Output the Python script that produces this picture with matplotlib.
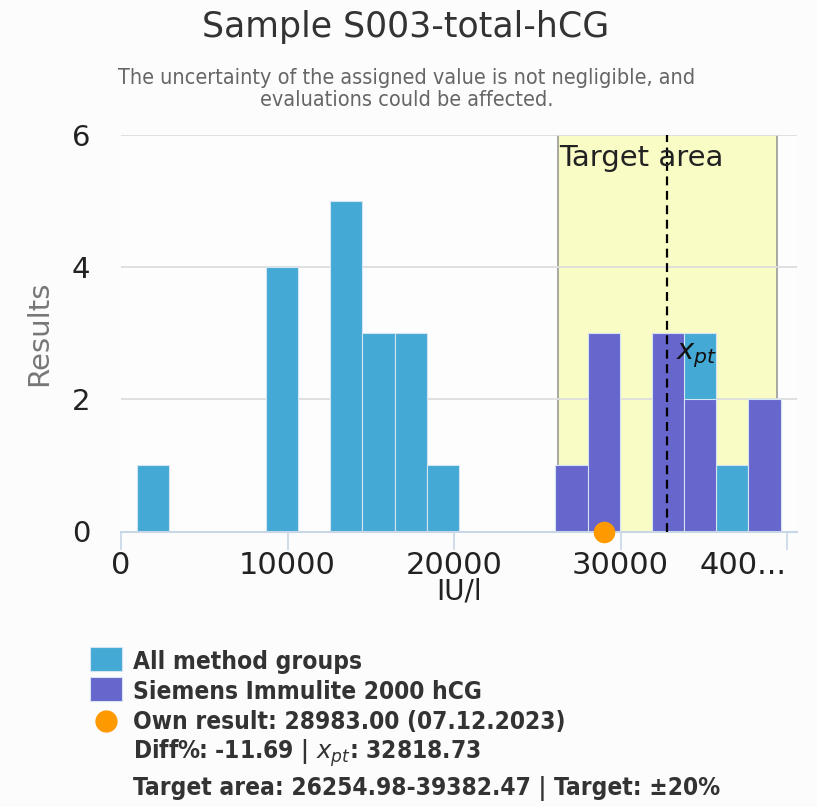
import matplotlib.pyplot as plt
import matplotlib.patches as mpatches
import numpy as np

# %%
# histogram data (20 equal bins)
bin_min, bin_max, n_bins = 975, 39615, 20
all_counts     = [1, 0, 0, 0, 4, 0, 5, 3, 3, 1, 0, 0, 0, 1, 3, 0, 3, 3, 1, 2]
siemens_counts = [0, 0, 0, 0, 0, 0, 0, 0, 0, 0, 0, 0, 0, 1, 3, 0, 3, 2, 0, 2]

own_result = 28983.00
x_pt = 32818.73
target_lo, target_hi = 26254.98, 39382.47

xticks = [0, 10000, 20000, 30000, 40000]
xtick_labels = ["0", "10000", "20000", "30000", "400..."]
yticks = [0, 2, 4, 6]

title = "Sample S003-total-hCG"
subtitle = "The uncertainty of the assigned value is not negligible, and\nevaluations could be affected."
legend_lines = [
    "All method groups",
    "Siemens Immulite 2000 hCG",
    "Own result: 28983.00 (07.12.2023)",
    "Diff%: -11.69 | $x_{pt}$: 32818.73",
    "Target area: 26254.98-39382.47 | Target: \u00b120%",
]

c_all = "#45a9d5"
c_sie = "#6666cc"
c_own = "#ff9900"
axis_col = "#c8d6e6"

# %%
W, H = 817, 807
fig = plt.figure(figsize=(W / 100, H / 100), dpi=100, facecolor="#fcfcfc")
ax = fig.add_axes([121.1 / W, 1 - 531.5 / H, (797 - 121.1) / W, (531.5 - 135) / H])
ax.set_facecolor("#fdfdfd")

edges = np.linspace(bin_min, bin_max, n_bins + 1)
width = edges[1] - edges[0]

ax.axvspan(target_lo, target_hi, color="#fafcc5", zorder=0.2, lw=0)
ax.axvline(target_lo, color="#999999", lw=1.2, zorder=0.3)
ax.axvline(target_hi, color="#999999", lw=1.2, zorder=0.3)
ax.text(target_lo + 60, 5.86, "Target area", fontsize=21, color="#222222",
        ha="left", va="top", zorder=5)

ax.bar(edges[:-1], all_counts, width=width, align="edge", color=c_all,
       edgecolor="#d3e5f3", linewidth=0.8, zorder=2)
ax.bar(edges[:-1], siemens_counts, width=width, align="edge", color=c_sie,
       edgecolor="#d3e5f3", linewidth=0.8, zorder=2.1)

ax.axvline(x_pt, color="black", lw=1.6, ls=(0, (4, 2.5)), zorder=3)
ax.annotate("$x_{pt}$", xy=(x_pt, 2.88), xytext=(6, 0), textcoords="offset points",
            fontsize=21, ha="left", va="top", color="#111111", zorder=5)

ax.plot([own_result], [0], "o", color=c_own, ms=14.5, clip_on=False, zorder=6)

ax.set_xlim(0, 40600)
ax.set_ylim(0, 6)
ax.set_axisbelow(True)
ax.yaxis.grid(True, color="#dddddd", lw=1.3)
for s in ["top", "right", "left"]:
    ax.spines[s].set_visible(False)
ax.spines["bottom"].set_color(axis_col)
ax.spines["bottom"].set_linewidth(1.5)

ax.set_xticks(xticks)
ax.set_xticklabels(xtick_labels)
ax.xaxis.get_ticklabels()[-1].set_horizontalalignment("right")
ax.set_yticks(yticks)
ax.tick_params(axis="x", length=13, width=1.2, color=axis_col, pad=1,
               labelsize=22, labelcolor="#222222")
ax.tick_params(axis="y", length=0, pad=22, labelsize=21, labelcolor="#222222")

ax.set_xlabel("IU/l", fontsize=20, color="#222222", labelpad=-2)
ax.set_ylabel("Results", fontsize=21, color="#777777")
ax.yaxis.set_label_coords(-0.1, 0.5)

# %%
fig.text(406 / W, 1 - 27 / H, title, fontsize=25, color="#333333", ha="center", va="center")
fig.text(407 / W, 1 - 89 / H, subtitle, fontsize=15.5, fontstretch="condensed",
         color="#666666", ha="center", va="center", linespacing=1.1)

# legend block
sq = [(c_all, 647), (c_sie, 677)]
for col, top in sq:
    fig.patches.append(mpatches.Rectangle((90 / W, 1 - (top + 24) / H), 32 / W, 24 / H,
                                          transform=fig.transFigure, facecolor=col,
                                          edgecolor="#d3e5f3", lw=0.8))
fig.lines.append(plt.Line2D([105.5 / W], [1 - 720.5 / H], marker="o", ms=15, color=c_own,
                            transform=fig.transFigure))
baselines = [669.3, 699.3, 729.3, 758.5, 795]
for txt, b in zip(legend_lines, baselines):
    fig.text(133 / W, 1 - b / H, txt, fontsize=17.6, fontweight="bold", fontstretch="condensed",
             color="#333333", ha="left", va="baseline")

fig.savefig("out.png", dpi=100, facecolor=fig.get_facecolor())
